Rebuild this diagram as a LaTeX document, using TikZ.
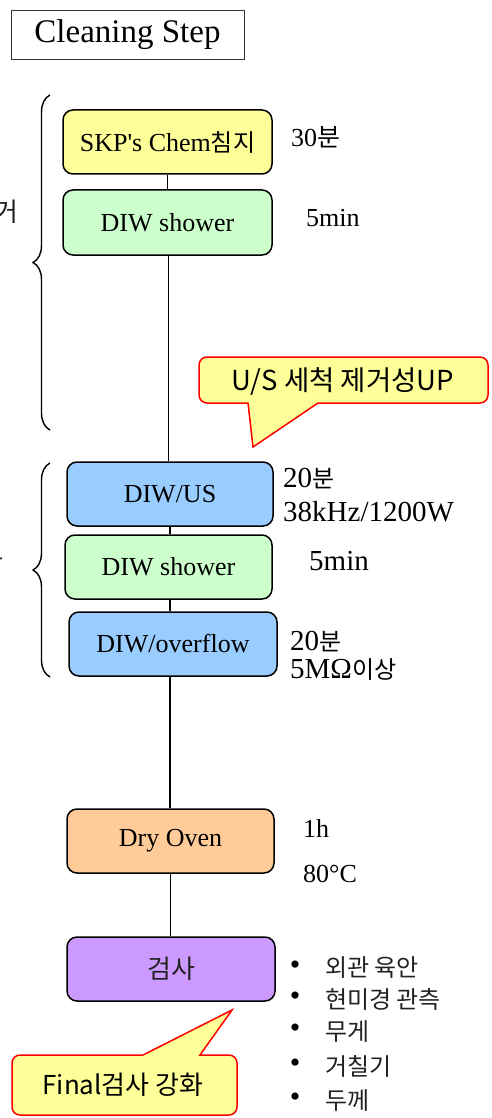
\documentclass[tikz,border=0pt]{standalone}
\usepackage{fontspec}
\setmainfont{Liberation Serif}
\newfontfamily\kr{Noto Sans CJK KR}
\usetikzlibrary{decorations.pathreplacing,calc}
\definecolor{cyellow}{HTML}{FFFF99}
\definecolor{cgreen}{HTML}{CCFFCC}
\definecolor{cblue}{HTML}{99CCFF}
\definecolor{corange}{HTML}{FFCC99}
\definecolor{cpurple}{HTML}{CC99FF}
\definecolor{ctext}{HTML}{222222}
\newcommand{\kor}[1]{{\kr #1}}
\tikzset{
  stepbox/.style={draw=black, line width=1.5pt, rounded corners=10pt, inner sep=0pt,
    font=\fontsize{26}{30}\selectfont, text=black},
  note/.style={anchor=west, inner sep=0pt, align=left, text=black},
  callout/.style={draw=red, line width=1.5pt, fill=cyellow},
  calltext/.style={inner sep=0pt, text=black},
  bracestyle/.style={decorate, decoration={brace, amplitude=17pt, aspect=0.5}, line width=1.4pt},
  conn/.style={line width=1.3pt, draw=black}
}
\begin{document}
\begin{tikzpicture}[x=1pt,y=-1pt]
\clip (0,0) rectangle (491,1118);
\fill[white] (0,0) rectangle (491,1118);

% title
\node[draw=black!80, line width=0.9pt, minimum width=233pt, minimum height=49pt, inner sep=0pt,
  font=\fontsize{33}{36}\selectfont] (title) at (127.5,34.5) {Cleaning Step};

% step boxes
\node[stepbox, fill=cyellow, minimum width=209pt, minimum height=64pt] (b1) at (167.5,142) {SKP\textquotesingle s Chem\kor{\fontsize{24}{28}\selectfont 침지}};
\node[stepbox, fill=cgreen, minimum width=209pt, minimum height=65pt] (b2) at (167.5,222.5) {DIW shower};
\node[stepbox, fill=cblue, minimum width=206pt, minimum height=64pt] (b3) at (170,494) {DIW/US};
\node[stepbox, fill=cgreen, minimum width=207pt, minimum height=64pt] (b4) at (168.5,567) {DIW shower};
\node[stepbox, fill=cblue, minimum width=208pt, minimum height=64pt] (b5) at (173,644) {DIW/overflow};
\node[stepbox, fill=corange, minimum width=207pt, minimum height=64pt] (b6) at (170.5,841) {Dry Oven};
\node[stepbox, fill=cpurple, minimum width=208pt, minimum height=64pt, font=\kr\fontsize{26}{28}\selectfont, text=ctext] (b7) at (171,969) {검사};

% connectors
\draw[conn] (b1.south) -- (b2.north);
\draw[conn] ([xshift=1pt]b2.south) -- ([xshift=1pt]b2.south |- b3.north);
\draw[conn] (b3.south) -- (b3.south |- b4.north);
\draw[conn] ([xshift=1.5pt]b4.south) -- ([xshift=1.5pt]b4.south |- b5.north);
\draw[conn] ([xshift=-3pt]b5.south) -- ([xshift=-3pt]b5.south |- b6.north);
\draw[conn] (b6.south) -- (b6.south |- b7.north);

% braces
\coordinate (br1t) at (50,95);
\coordinate (br1b) at (50,430);
\coordinate (br2t) at (50,463);
\coordinate (br2b) at (50,677);
\draw[bracestyle] (br1b) -- (br1t);
\draw[bracestyle] (br2b) -- (br2t);

% group labels, cut by the left edge as in the reference
\node[anchor=east, inner sep=0pt, font=\kr\fontsize{26}{28}\selectfont, text=ctext] (g1) at (19,212) {제거};
\node[anchor=east, inner sep=0pt, font=\kr\fontsize{26}{28}\selectfont, text=ctext] (g2) at (4,560) {강화};

% notes
\node[note, font=\fontsize{26}{28}\selectfont] (n1) at (291,137) {30\kor{\fontsize{25}{28}\selectfont 분}};
\node[note, font=\fontsize{26}{28}\selectfont] (n2) at (306,218) {5min};
\node[note, font=\fontsize{29}{32}\selectfont] (n3) at (283,479) {20\kor{\fontsize{24}{28}\selectfont 분}};
\node[note, font=\fontsize{29}{32}\selectfont] (n4) at (283,512) {38kHz/1200W};
\node[note, font=\fontsize{29}{32}\selectfont] (n5) at (309,561) {5min};
\node[note, font=\fontsize{29}{32}\selectfont] (n6) at (290,642) {20\kor{\fontsize{24}{28}\selectfont 분}};
\node[note, font=\fontsize{29}{32}\selectfont] (n7) at (290,670) {5MΩ\kor{\fontsize{24}{28}\selectfont 이상}};
\node[note, font=\fontsize{26}{28}\selectfont] (n8) at (303,828) {1h};
\node[note, font=\fontsize{26}{28}\selectfont] (n9) at (303,874) {80°C};

% bullet list
\foreach \yy/\txt [count=\i] in {968/외관 육안, 999/현미경 관측, 1031/무게, 1066/거칠기, 1100/두께}{
  \node[inner sep=0pt, font=\fontsize{30}{32}\selectfont] (bu\i) at (295,\yy) {\textbullet};
  \node[note, font=\kr\fontsize{24}{28}\selectfont, text=ctext] (bt\i) at (325,\yy) {\txt};
}

% callout 1
\coordinate (c1tip) at (253,447);
\draw[callout] (c1tip) -- (248,403) [rounded corners=8pt] -- (199,403) -- (199,357) -- (488,357) -- (488,403) [sharp corners] -- (318,403) -- cycle;
\node[calltext, font=\kr\fontsize{27.5}{30}\selectfont] (c1) at (343,382) {U/S 세척 제거성UP};

% callout 2
\coordinate (c2tip) at (232,1010);
\draw[callout] (c2tip) -- (200,1055) [rounded corners=8pt] -- (237,1055) -- (237,1115) -- (12,1115) -- (12,1055) [sharp corners] -- (143,1055) -- cycle;
\node[calltext, font=\kr\fontsize{26}{28}\selectfont] (c2) at (123,1085) {Final검사 강화};

\end{tikzpicture}
\end{document}
